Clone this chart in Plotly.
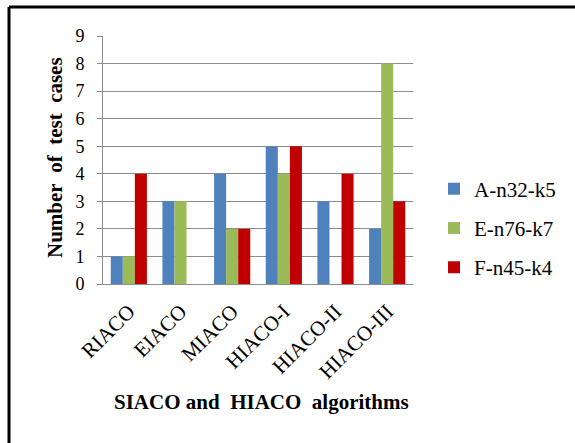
import plotly.graph_objects as go

# Algorithms on the category axis
algorithms = ["RIACO", "EIACO", "MIACO", "HIACO-I", "HIACO-II", "HIACO-III"]

# Number of test cases per benchmark instance
a_n32_k5 = [1, 3, 4, 5, 3, 2]
e_n76_k7 = [1, 3, 2, 4, 0, 8]
f_n45_k4 = [4, 0, 2, 5, 4, 3]

series_names = ["A-n32-k5", "E-n76-k7", "F-n45-k4"]
series_values = [a_n32_k5, e_n76_k7, f_n45_k4]
series_colors = ["#4F81BD", "#9BBB59", "#C00000"]

y_ticks = list(range(0, 10))

W, H = 575, 443
L, R, T, B = 103, 413, 36, 284  # plot area in pixels

fig = go.Figure()
for i, (name, vals, col) in enumerate(zip(series_names, series_values, series_colors)):
    fig.add_trace(go.Bar(
        x=algorithms, y=vals, name=name,
        marker=dict(color=col, line=dict(width=0)),
        legendgroup=name,
    ))

serif = "Liberation Serif"
fig.update_layout(
    width=W, height=H,
    margin=dict(l=L, r=W - R, t=T, b=H - B, pad=0),
    paper_bgcolor="white", plot_bgcolor="white",
    barmode="group", bargap=0.3, bargroupgap=0,
    font=dict(family=serif, color="black", size=16),
    xaxis=dict(
        showgrid=False, showline=True, linecolor="#8C8C8C", linewidth=1,
        ticks="", tickangle=-45, ticklabelstandoff=6,
        tickfont=dict(size=21, family=serif),
    ),
    yaxis=dict(
        range=[0, 9], tickvals=y_ticks, showgrid=True, gridcolor="#8C8C8C", gridwidth=1,
        showline=True, linecolor="#8C8C8C", linewidth=1,
        ticks="outside", ticklen=5, tickcolor="#8C8C8C", ticklabelstandoff=9,
        tickfont=dict(size=18, family=serif), zeroline=False,
    ),
    legend=dict(
        x=(434 - L) / (R - L), y=(B - 228) / (B - T), xanchor="left", yanchor="middle",
        font=dict(size=21, family=serif), tracegroupgap=9, traceorder="grouped",
        itemwidth=30, bgcolor="rgba(0,0,0,0)",
    ),
    showlegend=True,
)

# Axis titles
fig.add_annotation(
    text="<b>SIACO and\u00a0\u00a0HIACO\u00a0\u00a0algorithms</b>",
    xref="paper", yref="paper", x=(261 - L) / (R - L), y=(B - 402) / (B - T),
    xanchor="center", yanchor="middle", showarrow=False,
    font=dict(size=21, family=serif),
)
fig.add_annotation(
    text="<b>Number\u00a0\u00a0of\u00a0\u00a0test\u00a0\u00a0cases</b>",
    xref="paper", yref="paper", x=(55 - L) / (R - L), y=(B - 158) / (B - T),
    xanchor="center", yanchor="middle", showarrow=False, textangle=-90,
    font=dict(size=21, family=serif),
)

# Chart frame (top and left edges)
fx = (9 - L) / (R - L)
fy = (B - 7) / (B - T)
fig.add_shape(type="line", xref="paper", yref="paper", x0=fx, y0=fy, x1=2, y1=fy,
              line=dict(color="black", width=3))
fig.add_shape(type="line", xref="paper", yref="paper", x0=fx, y0=fy, x1=fx, y1=-2,
              line=dict(color="black", width=3))

fig.write_html("out.html")
